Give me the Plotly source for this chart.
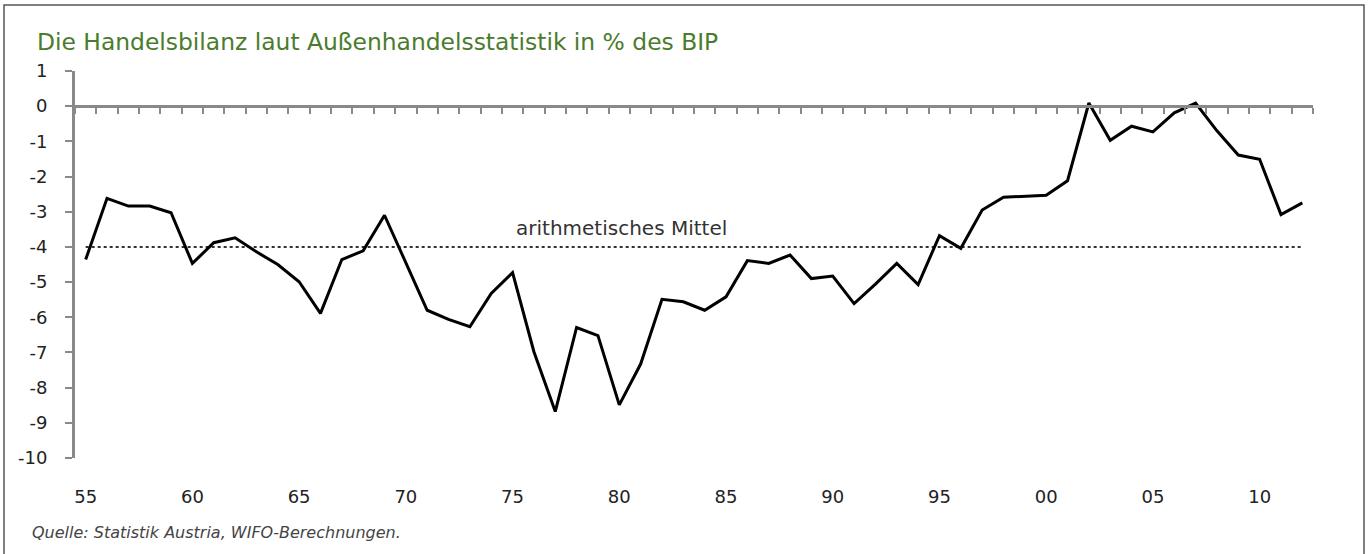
import plotly.graph_objects as go

years = list(range(1955, 2013))
balance = [
    -4.36, -2.62, -2.84, -2.84, -3.03, -4.47, -3.88, -3.74, -4.14, -4.50,
    -4.99, -5.89, -4.36, -4.11, -3.10, -4.45, -5.80, -6.06, -6.27, -5.32,
    -4.73, -6.98, -8.68, -6.29, -6.52, -8.49, -7.33, -5.49, -5.56, -5.80,
    -5.42, -4.39, -4.47, -4.23, -4.90, -4.83, -5.61, -5.06, -4.47, -5.07,
    -3.68, -4.04, -2.95, -2.59, -2.55, -2.53, -2.12, 0.09, -0.97, -0.57,
    -0.73, -0.19, 0.09, -0.70, -1.39, -1.51, -3.08, -2.75,
]
mean_value = -4.0
label_years = [1955, 1960, 1965, 1970, 1975, 1980, 1985, 1990, 1995, 2000, 2005, 2010]
label_text = ["55", "60", "65", "70", "75", "80", "85", "90", "95", "00", "05", "10"]
y_ticks = list(range(-10, 2))
y_tick_text = [str(v) for v in y_ticks]

AXIS_GRAY = "#8a8888"
TICK_FONT = dict(family="DejaVu Sans", size=18, color="#222222")

fig = go.Figure()
fig.add_trace(go.Scatter(
    x=years, y=[mean_value] * len(years), mode="lines",
    line=dict(color="#333333", width=2, dash="dot"),
    hoverinfo="skip", showlegend=False,
))
fig.add_trace(go.Scatter(
    x=years, y=balance, mode="lines",
    line=dict(color="#000000", width=3),
    showlegend=False,
))

xr = [years[0] - 0.5, years[-1] + 0.5]
boundaries = [y - 0.5 for y in years] + [years[-1] + 0.5]

fig.update_layout(
    width=1369, height=554,
    margin=dict(l=75, r=56, t=71, b=96),
    paper_bgcolor="white", plot_bgcolor="white",
    title=dict(
        text="Die Handelsbilanz laut Außenhandelsstatistik in % des BIP",
        x=37 / 1369, xanchor="left", y=1 - 42 / 554, yanchor="middle",
        font=dict(family="DejaVu Sans", size=23.4, color="#4a7c2c"),
    ),
    xaxis=dict(
        range=xr, showgrid=False, zeroline=False, showline=False,
        tickmode="array", tickvals=label_years, ticktext=label_text,
        ticks="", tickfont=TICK_FONT, ticklabelstandoff=26,
    ),
    xaxis2=dict(
        range=xr, overlaying="x", anchor="free", position=10 / 11,
        side="bottom", showgrid=False, zeroline=False,
        showline=True, linecolor=AXIS_GRAY, linewidth=3,
        tickmode="array", tickvals=boundaries, ticks="outside",
        ticklen=6, tickwidth=2, tickcolor=AXIS_GRAY, showticklabels=False,
    ),
    yaxis=dict(
        range=[-10, 1], showgrid=False, zeroline=False,
        showline=True, linecolor=AXIS_GRAY, linewidth=3,
        tickmode="array", tickvals=y_ticks, ticktext=y_tick_text,
        ticks="outside", ticklen=7, tickwidth=2, tickcolor=AXIS_GRAY,
        tickfont=TICK_FONT, ticklabelstandoff=14,
    ),
    shapes=[dict(
        type="rect", xref="paper", yref="paper",
        x0=(4 - 75) / 1238, x1=(1364 - 75) / 1238,
        y0=(458 - 600) / 387, y1=(458 - 5) / 387,
        line=dict(color="#555555", width=1.5), fillcolor="rgba(0,0,0,0)",
        layer="below",
    )],
    annotations=[
        dict(
            text="arithmetisches Mittel", x=1980.1, y=-3.47, xref="x", yref="y",
            showarrow=False, xanchor="center", yanchor="middle",
            font=dict(family="DejaVu Sans", size=20, color="#333333"),
        ),
        dict(
            text="<i>Quelle: Statistik Austria, WIFO-Berechnungen.</i>",
            x=(30 - 75) / 1238, y=(458 - 532.5) / 387, xref="paper", yref="paper",
            showarrow=False, xanchor="left", yanchor="middle",
            font=dict(family="DejaVu Sans", size=16, color="#444444"),
        ),
    ],
)
# invisible point on xaxis2 so the overlay axis (zero line with ticks) is rendered
fig.add_trace(go.Scatter(x=[years[0]], y=[0], xaxis="x2", mode="markers",
                         marker=dict(opacity=0), hoverinfo="skip", showlegend=False))

fig.write_html("out.html", config={"displayModeBar": False},
               post_script="document.body.style.margin='0px';")
